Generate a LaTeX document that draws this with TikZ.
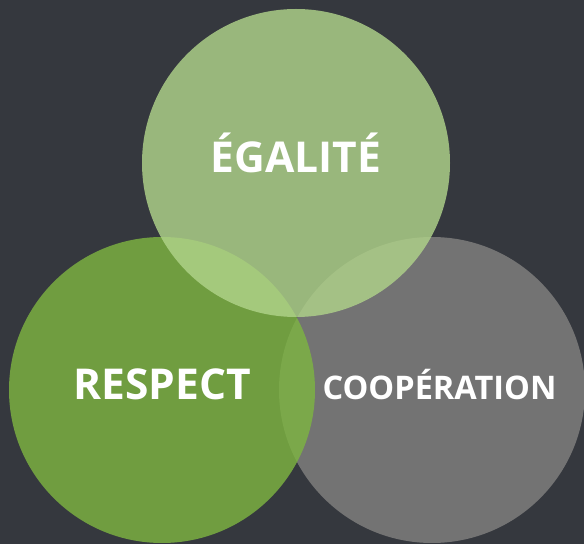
\documentclass[tikz,border=0pt]{standalone}
\usepackage{fontspec}
\setmainfont{Open Sans}
\usepackage{tikz}
\usetikzlibrary{positioning}
\definecolor{bgdark}{RGB}{53,56,62}
\definecolor{coopgray}{RGB}{115,115,115}
\definecolor{respgreen}{RGB}{125,180,65}
\definecolor{egalgreen}{RGB}{176,211,138}

\begin{document}
\begin{tikzpicture}[x=1pt,y=1pt,
  circ/.style={circle,inner sep=0pt,minimum size=306pt},
  word/.style={text=white,anchor=base,font=\bfseries\fontsize{#1}{#1}\selectfont}]
\useasboundingbox (0,0) rectangle (584,544);
\clip (0,0) rectangle (584,544);
\fill[bgdark] (0,0) rectangle (584,544);
% three circles, lowest first
\node[circ,fill=coopgray] (coop) at (432,154) {};
\node[circ,fill=respgreen,fill opacity=0.82] (resp) at (162,154) {};
\node[circ,fill=egalgreen,fill opacity=0.82,minimum size=308pt] (egal) at (296,381) {};
% labels
\node[word=42.5] (egaltext) at (296,371) {ÉGALITÉ};
\node[word=42.5] (resptext) at (162,144) {RESPECT};
\node[word=32.5] (cooptext) at (439.5,144) {COOPÉRATION};
\end{tikzpicture}
\end{document}
